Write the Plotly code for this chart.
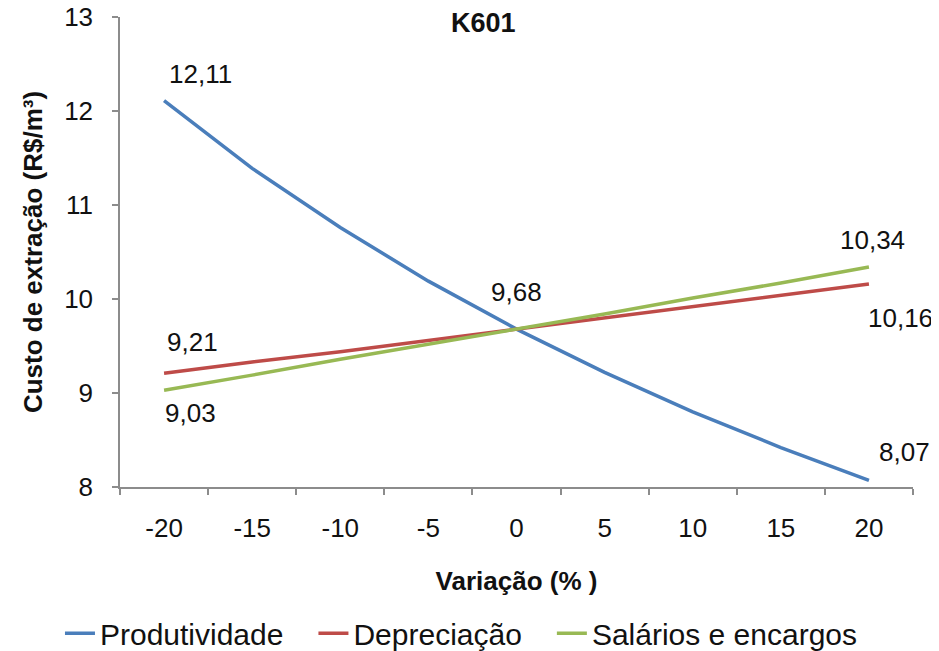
import plotly.graph_objects as go

VARIACAO = ["-20", "-15", "-10", "-5", "0", "5", "10", "15", "20"]
PRODUTIVIDADE = [12.11, 11.39, 10.76, 10.19, 9.68, 9.22, 8.80, 8.42, 8.07]
DEPRECIACAO = [9.21, 9.33, 9.44, 9.56, 9.68, 9.80, 9.92, 10.04, 10.16]
SALARIOS = [9.03, 9.19, 9.36, 9.52, 9.68, 9.84, 10.01, 10.17, 10.34]

BLUE = "#4A7EBB"
RED = "#BE4B48"
GREEN = "#98B954"
FONT = "Liberation Sans, Arial, sans-serif"
PAD = "\u00a0\u00a0\u00a0"  # extra gap between legend entries

fig = go.Figure()
for name, ys, color in [
    ("Produtividade" + PAD, PRODUTIVIDADE, BLUE),
    ("Depreciação" + PAD, DEPRECIACAO, RED),
    ("Salários e encargos", SALARIOS, GREEN),
]:
    fig.add_trace(go.Scatter(
        x=VARIACAO, y=ys, name=name, mode="lines",
        line=dict(color=color, width=3.5),
    ))


def lbl(v):
    return f"{v:.2f}".replace(".", ",")


# data labels: (category index, value, xshift, yshift)
last = len(VARIACAO) - 1
labels = [
    (0, PRODUTIVIDADE[0], 36, 27),
    (0, DEPRECIACAO[0], 28, 31),
    (0, SALARIOS[0], 26, -23),
    (4, PRODUTIVIDADE[4], 0, 37),
    (last, SALARIOS[last], 4, 27),
    (last, DEPRECIACAO[last], 32, -34),
    (last, PRODUTIVIDADE[last], 36, 28),
]
for i, y, dx, dy in labels:
    fig.add_annotation(
        x=i, y=y, text=lbl(y), showarrow=False,
        xshift=dx, yshift=dy, font=dict(size=26, color="#111111"),
    )

fig.add_annotation(
    text="<b>K601</b>", xref="paper", yref="paper", x=0.458, y=0.988,
    yanchor="middle", showarrow=False, font=dict(size=27, color="#111111"),
)

# the page body adds an 8 px offset, so the figure is 8 px smaller each way
fig.update_layout(
    width=931, height=643,
    margin=dict(l=112, r=26, t=9, b=164, autoexpand=False),
    paper_bgcolor="white", plot_bgcolor="white",
    font=dict(family=FONT, size=26, color="#111111"),
    showlegend=True,
    legend=dict(
        orientation="h", x=-0.0757, xanchor="left", y=-0.311, yanchor="middle",
        font=dict(size=30), tracegroupgap=0,
    ),
)
fig.update_xaxes(
    type="category", tickson="boundaries", range=[-0.5, last + 0.5],
    tickangle=0, automargin=False,
    showline=True, linecolor="#8c8c8c", linewidth=1.5,
    ticks="outside", ticklen=6, tickcolor="#8c8c8c", tickwidth=1.5,
    showgrid=False, zeroline=False, ticklabelstandoff=17,
    title=dict(text="<b>Variação (% )</b>", font=dict(size=26), standoff=30),
)
fig.update_yaxes(
    range=[8, 13], dtick=1, automargin=False, ticklabeloverflow="allow",
    showline=True, linecolor="#8c8c8c", linewidth=1.5,
    ticks="outside", ticklen=6, tickcolor="#8c8c8c", tickwidth=1.5,
    showgrid=False, zeroline=False, ticklabelstandoff=14,
    title=dict(text="<b>Custo de extração (R$/m³)</b>", font=dict(size=26), standoff=14),
)

fig.write_html("out.html")
